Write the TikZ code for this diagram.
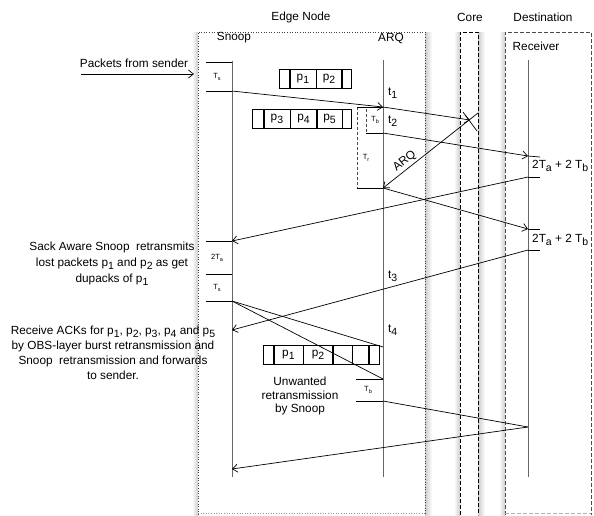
\documentclass[tikz,border=0pt]{standalone}
\usepackage{fontspec}
\setmainfont{Liberation Sans}
\usetikzlibrary{arrows.meta}
\newcommand\lo[1]{\raisebox{-0.45ex}{\fontsize{10.5}{11}\selectfont #1}}
\newcommand\slo[1]{\raisebox{-0.35ex}{\fontsize{5.5}{6}\selectfont #1}}
\begin{document}
\begin{tikzpicture}[x=1pt,y=-1pt,
  font=\fontsize{11.8}{14}\selectfont,
  lifeline/.style={draw=black!60,line width=0.9pt},
  msg/.style={draw=black,line width=0.7pt},
  arr/.style={msg,-{Straight Barb[length=5pt,width=8pt,line width=0.7pt]}},
  tick/.style={draw=black,line width=0.7pt},
  dtick/.style={draw=black!70,line width=0.7pt,dash pattern=on 3pt off 2pt},
  cell/.style={draw=black,line width=0.6pt,minimum height=19,inner sep=0pt,anchor=west},
  small/.style={font=\fontsize{7.5}{8}\selectfont,inner sep=0pt},
  tlab/.style={inner sep=0pt,anchor=west},
  shl/.style={left color=white,right color=black!20,draw=none},
  shr/.style={left color=black!20,right color=white,draw=none},
  every node/.style={text=black}]
\useasboundingbox (0,0) rectangle (594,515);
% shadows
\shade[shl] (192,32) rectangle (198,515);
\shade[shr] (425,32) rectangle (432,515);
\shade[shl] (454,32) rectangle (460,515);
\shade[shr] (478,32) rectangle (485,515);
\shade[shl] (499,32) rectangle (505,515);
% boxes
\fill[white] (198,32) rectangle (425,513);
\fill[white] (460,32) rectangle (478,515);
\fill[white] (505,32) rectangle (591,513);
\draw[black!75,line width=0.7pt,dash pattern=on 1pt off 1.6pt] (198,515) -- (198,32) -- (425,32) -- (425,515);
\draw[black!40,line width=0.7pt,dash pattern=on 1pt off 1.6pt] (198,513) -- (425,513);
\draw[black,line width=0.8pt,dash pattern=on 4pt off 2pt] (460,515) -- (460,32) -- (478,32) -- (478,515);
\draw[black!70,line width=0.8pt,dash pattern=on 4pt off 2pt] (505,515) -- (505,32) -- (591,32) -- (591,515);
\draw[black!30,line width=0.7pt,dash pattern=on 4pt off 2pt] (505,513) -- (591,513);
% titles
\node (tedge) at (301,17) {Edge Node};
\node (tcore) at (470,17) {Core};
\node (tdest) at (543,17) {Destination};
\node (tsnoop) at (234,38) {Snoop};
\node (tarq) at (391,38) {ARQ};
\node (trecv) at (536,46) {Receiver};
% lifelines
\coordinate (snT) at (232,61); \coordinate (snB) at (232,477);
\coordinate (arT) at (383,60); \coordinate (arB) at (383,477);
\coordinate (rcT) at (528,60); \coordinate (rcB) at (528,477);
\draw[lifeline] (snT) -- (snB);
\draw[lifeline] (arT) -- (arB);
\draw[lifeline] (rcT) -- (rcB);
% sender arrow
\coordinate (pf1) at (81,74); \coordinate (pf2) at (194,74);
\draw[arr] (pf1) -- (pf2);
\node (tpf) at (134,63) {Packets from sender};
% snoop ticks
\coordinate (sa1) at (206,62); \coordinate (sa2) at (232,62);
\coordinate (sb1) at (206,91); \coordinate (sb2) at (232,91);
\coordinate (sc1) at (206,241); \coordinate (sc2) at (232,241);
\coordinate (sd1) at (206,274); \coordinate (sd2) at (232,274);
\coordinate (se1) at (206,301); \coordinate (se2) at (232,301);
\coordinate (sf) at (232,330); \coordinate (sg) at (232,469);
\draw[tick] (sa1) -- (sa2); \draw[tick] (sb1) -- (sb2);
\draw[tick] (sc1) -- (sc2); \draw[tick] (sd1) -- (sd2); \draw[tick] (se1) -- (se2);
\node[small] (lts1) at (217,77) {T\slo{s}};
\node[small] (l2ta) at (217,258) {2T\slo{a}};
\node[small] (lts2) at (217,288) {T\slo{s}};
% ARQ side coordinates
\coordinate (a1) at (383,107); \coordinate (a2) at (383,133);
\coordinate (a3) at (383,188); \coordinate (a4) at (383,347);
\coordinate (a5) at (383,379); \coordinate (a6) at (383,401);
\coordinate (trT) at (357,107); \coordinate (trB) at (357,188);
\coordinate (tbT) at (366,109); \coordinate (tbB) at (366,133);
\draw[dtick] (trT) -- (trB);
\draw[dtick] (tbT) -- (tbB);
\draw[tick] (trT) -- (a1);
\draw[tick] (trB) -- (a3);
\draw[tick] (tbB) -- (a2);
\node[small] (ltb1) at (375,120) {T\slo{b}};
\node[small] (ltr) at (366,158) {T\slo{r}};
\coordinate (lb1) at (356,379); \coordinate (lb2) at (356,401);
\draw[tick] (lb1) -- (a5); \draw[tick] (lb2) -- (a6);
\node[small] (ltb2) at (368,390) {T\slo{b}};
\node[tlab] (lt1) at (388,93) {t\lo{1}};
\node[tlab] (lt2) at (388,121) {t\lo{2}};
\node[tlab] (lt3) at (388,276) {t\lo{3}};
\node[tlab] (lt4) at (388,330) {t\lo{4}};
% receiver coordinates
\coordinate (r1) at (528,156); \coordinate (r2) at (528,177);
\coordinate (r3) at (528,229); \coordinate (r4) at (528,250);
\coordinate (r5) at (528,427);
\coordinate (r1e) at (540,157); \coordinate (r2e) at (540,177);
\coordinate (r3e) at (540,229); \coordinate (r4e) at (540,250);
\draw[tick] (r1) -- (r1e); \draw[tick] (r2) -- (r2e);
\draw[tick] (r3) -- (r3e); \draw[tick] (r4) -- (r4e);
\node[tlab] (lr1) at (532,166) {2T\lo{a} + 2 T\lo{b}};
\node[tlab] (lr2) at (532,240) {2T\lo{a} + 2 T\lo{b}};
% core X
\coordinate (xc) at (470,120);
\coordinate (xa) at (463,112); \coordinate (xb) at (477,131);
\coordinate (xd) at (478,113);
\draw[msg] (xa) -- (xb);
% messages
\draw[arr] (sb2) -- (a1);
\draw[arr] (a1) -- (xc);
\draw[arr] (xd) -- (a3);
\node[rotate=38.3,anchor=south,inner sep=1.5pt] (larq) at (409,166.5) {ARQ};
\draw[arr] (a2) -- (r1);
\draw[arr] (r2) -- (sc2);
\draw[arr] (a3) -- (r3);
\draw[arr] (r4) -- (sf);
\draw[msg] (se2) -- (a4);
\draw[msg] (se2) -- (a5);
\draw[msg] (a6) -- (r5);
\draw[arr] (r5) -- (sg);
% packet boxes
\node[cell,minimum width=10] (q0) at (279,78.5) {};
\node[cell,minimum width=26] (q1) at (q0.east) {p\lo{1}};
\node[cell,minimum width=25] (q2) at (q1.east) {p\lo{2}};
\node[cell,minimum width=9] (q3) at (q2.east) {};
\node[cell,minimum width=11] (w0) at (252,119) {};
\node[cell,minimum width=26] (w1) at (w0.east) {p\lo{3}};
\node[cell,minimum width=26] (w2) at (w1.east) {p\lo{4}};
\node[cell,minimum width=25] (w3) at (w2.east) {p\lo{5}};
\node[cell,minimum width=9] (w4) at (w3.east) {};
\node[cell,minimum width=10] (u0) at (263,355) {};
\node[cell,minimum width=29] (u1) at (u0.east) {p\lo{1}};
\node[cell,minimum width=29] (u2) at (u1.east) {p\lo{2}};
\node[cell,minimum width=19] (u3) at (u2.east) {};
\node[cell,minimum width=16] (u4) at (u3.east) {};
\node[cell,minimum width=10] (u5) at (u4.east) {};
\node[align=center,font=\fontsize{11.8}{13.5}\selectfont] (tunw) at (300,396) {Unwanted\\retransmission\\by Snoop};
% left texts
\node[align=center,font=\fontsize{11.8}{16}\selectfont] (tsack) at (112,264) {Sack Aware Snoop\ \ retransmits\\lost packets p\lo{1} and p\lo{2} as get\\dupacks of p\lo{1}};
\node[align=center,font=\fontsize{11.8}{15}\selectfont] (track) at (113,353) {Receive ACKs for p\lo{1}, p\lo{2}, p\lo{3}, p\lo{4} and p\lo{5}\\by OBS-layer burst retransmission and\\Snoop\ \ retransmission and forwards\\to sender.};
\end{tikzpicture}
\end{document}
